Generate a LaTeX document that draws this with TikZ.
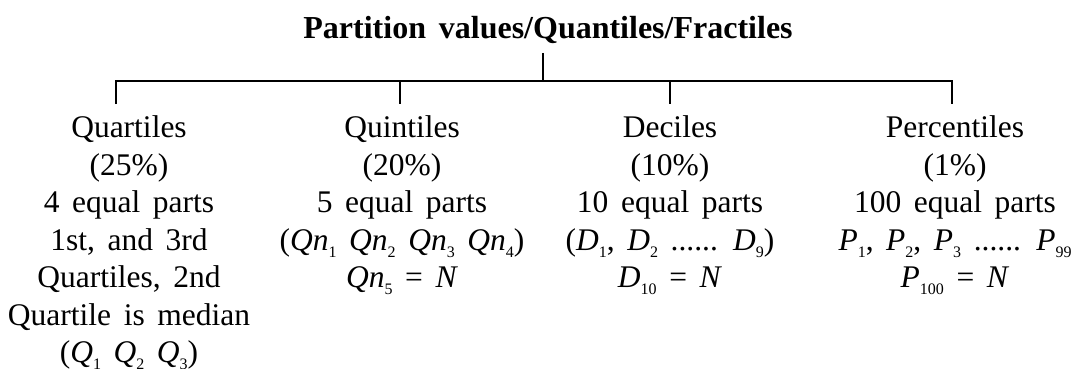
\documentclass[tikz,border=0pt]{standalone}
\usepackage{fontspec}
\setmainfont{Liberation Serif}[WordSpace=1.6]
\newcommand\sbs[1]{\raisebox{-7pt}{\fontsize{16}{16}\selectfont #1}}
\begin{document}
\begin{tikzpicture}[x=1pt,y=-1pt,
  conn/.style={line width=1.3pt},
  colbox/.style={anchor=north, inner sep=0pt, align=center,
    font={\fontsize{31.5}{37.5}\selectfont\lineskiplimit=-50pt\lineskip=0pt}},
  ttlbox/.style={anchor=base, inner sep=0pt, font={\fontsize{32}{38}\selectfont\bfseries}}]
\useasboundingbox (0,0) rectangle (1083,369);
\node[ttlbox] (title) at (548,38) {Partition values/Quantiles/Fractiles};
\node[colbox] (quart) at (129,115.5) {Quartiles\\(25\%)\\4 equal parts\\1st, and 3rd\\Quartiles, 2nd\\Quartile is median\\(\textit{Q}\sbs{1} \textit{Q}\sbs{2} \textit{Q}\sbs{3})};
\node[colbox] (quint) at (402,115.5) {Quintiles\\(20\%)\\5 equal parts\\(\textit{Qn}\sbs{1} \textit{Qn}\sbs{2} \textit{Qn}\sbs{3} \textit{Qn}\sbs{4})\\\textit{Qn}\sbs{5} = \textit{N}};
\node[colbox] (dec) at (670,115.5) {Deciles\\(10\%)\\10 equal parts\\(\textit{D}\sbs{1}, \textit{D}\sbs{2} ...... \textit{D}\sbs{9})\\\textit{D}\sbs{10} = \textit{N}};
\node[colbox] (perc) at (955,115.5) {Percentiles\\(1\%)\\100 equal parts\\\textit{P}\sbs{1}, \textit{P}\sbs{2}, \textit{P}\sbs{3} ...... \textit{P}\sbs{99}\\\textit{P}\sbs{100} = \textit{N}};
\coordinate (top) at (543,53);
\coordinate (jc) at (543,81);
\coordinate (j1) at (116,81);
\coordinate (j2) at (400,81);
\coordinate (j3) at (670,81);
\coordinate (j4) at (952,81);
\coordinate (s1) at (116,104);
\coordinate (s2) at (400,104);
\coordinate (s3) at (670,104);
\coordinate (s4) at (952,104);
\draw[conn] (top) -- (jc);
\draw[conn] (s1) -- (j1) -- (j4) -- (s4);
\draw[conn] (j2) -- (s2);
\draw[conn] (j3) -- (s3);
\end{tikzpicture}
\end{document}
